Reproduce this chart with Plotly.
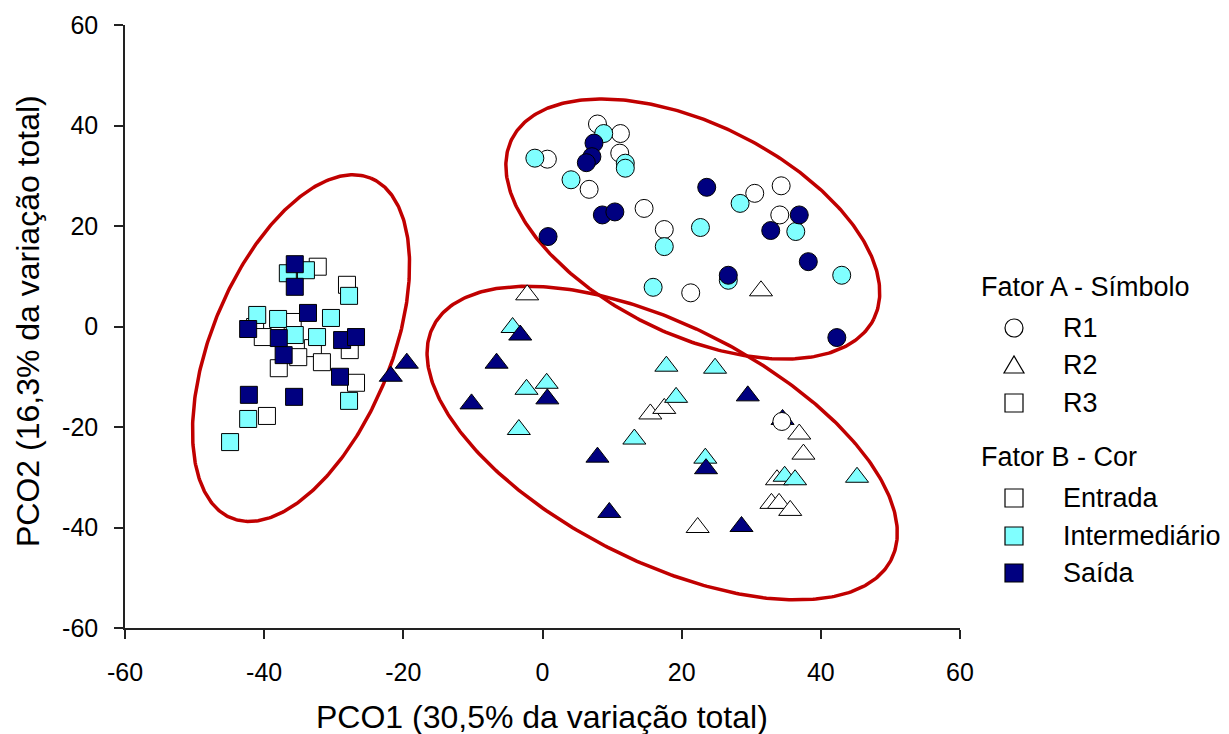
import numpy as np
import plotly.graph_objects as go

# ---------------- data ----------------
# R1 = circles, R2 = triangles, R3 = squares
# Entrada = white, Intermediário = cyan, Saída = navy
r1_entrada_x = [7.9, 11.2, 11.1, 0.7, 6.7, 30.5, 34.3, 14.6, 17.5, 34.1, 21.3, 34.4]
r1_entrada_y = [40.3, 38.4, 34.5, 33.3, 27.3, 26.5, 28.0, 23.5, 19.3, 22.2, 6.7, -18.9]
r1_inter_x = [8.8, 11.9, 11.9, -1.1, 4.1, 28.4, 17.5, 22.7, 36.4, 43.0, 26.7, 15.9]
r1_inter_y = [38.4, 32.5, 31.5, 33.5, 29.2, 24.5, 15.9, 19.7, 18.9, 10.2, 9.2, 7.8]
r1_saida_x = [7.4, 7.1, 6.3, 23.6, 8.6, 10.4, 36.9, 32.8, 0.8, 38.2, 26.7, 42.3]
r1_saida_y = [36.5, 33.8, 32.6, 27.7, 22.2, 22.8, 22.2, 19.1, 17.9, 12.9, 10.2, -2.2]

r2_entrada_x = [-2.2, 31.4, 15.5, 17.5, 22.3, 36.9, 37.5, 33.7, 32.9, 34.0, 35.6]
r2_entrada_y = [6.3, 7.1, -17.4, -16.3, -40.0, -21.4, -25.4, -30.5, -35.2, -35.2, -36.6]
r2_inter_x = [-4.3, -2.3, 0.6, -3.4, 13.2, 19.2, 17.8, 24.8, 23.4, 34.8, 36.3, 45.2]
r2_inter_y = [-0.2, -12.5, -11.3, -20.5, -22.4, -14.1, -7.9, -8.3, -26.2, -29.8, -30.5, -30.0]
r2_saida_x = [-3.2, -6.6, -10.2, 0.7, 7.9, 9.6, 29.5, 23.5, 28.6, -19.5, -21.8, 34.5]
r2_saida_y = [-1.7, -7.3, -15.4, -14.4, -26.0, -37.0, -13.8, -28.3, -39.8, -7.3, -9.9, -18.5]

r3_entrada_x = [-32.3, -28.1, -41.3, -40.2, -35.9, -33.0, -27.7, -35.1, -37.9, -31.7, -26.8, -39.6]
r3_entrada_y = [11.9, 8.3, -0.1, -2.1, 0.9, -4.3, -4.7, -6.1, -8.3, -7.1, -11.2, -17.8]
r3_inter_x = [-36.6, -34.0, -27.8, -41.0, -38.0, -30.4, -35.6, -32.4, -27.8, -42.3, -44.9]
r3_inter_y = [10.6, 11.2, 6.1, 2.3, 1.5, 1.7, -1.7, -2.1, -14.8, -18.4, -23.0]
r3_saida_x = [-35.6, -35.6, -33.7, -42.3, -37.9, -28.8, -26.8, -37.2, -29.1, -42.2, -35.7]
r3_saida_y = [12.4, 7.9, 2.7, -0.5, -2.3, -2.7, -2.1, -5.7, -10.0, -13.6, -14.0]

# grouping ellipses: centre (data units), semi-axes (px), rotation (deg)
ell_cx = [-34.7, 21.6, 17.2]
ell_cy = [-4.3, 19.4, -23.2]
ell_a = [183.7, 202.1, 257.0]
ell_b = [89.9, 105.0, 117.6]
ell_ang = [67.7, -26.4, -27.0]

x_ticks = [-60, -40, -20, 0, 20, 40, 60]
y_ticks = [-60, -40, -20, 0, 20, 40, 60]
x_tick_labels = ["-60", "-40", "-20", "0", "20", "40", "60"]
y_tick_labels = ["-60", "-40", "-20", "0", "20", "40", "60"]

x_title = "PCO1 (30,5% da variação total)"
y_title = "PCO2 (16,3% da variação total)"
factor_a_title = "Fator A - Símbolo"
factor_b_title = "Fator B - Cor"
symbol_names = ["R1", "R2", "R3"]
colour_names = ["Entrada", "Intermediário", "Saída"]

# ---------------- styling ----------------
W, H = 1229, 734
PL, PR, PT, PB = 125, 960, 25, 628          # plot-area edges in px
FONT = "Arial, 'Liberation Sans', sans-serif"
COLS = {"Entrada": "#FFFFFF", "Intermediário": "#80FFFF", "Saída": "#000080"}
SYMS = {"R1": "circle", "R2": "triangle-up", "R3": "square"}
SIZES = {"R1": 18, "R2": 20, "R3": 17}
RED = "#C00000"

sx = (PR - PL) / 120.0
sy = (PB - PT) / 120.0

fig = go.Figure()

# ellipses
t = np.linspace(0, 2 * np.pi, 400)
for cx, cy, a, b, ang in zip(ell_cx, ell_cy, ell_a, ell_b, ell_ang):
    th = np.deg2rad(ang)
    px = a * np.cos(th) * np.cos(t) - b * np.sin(th) * np.sin(t)
    py = a * np.sin(th) * np.cos(t) + b * np.cos(th) * np.sin(t)
    fig.add_trace(go.Scatter(x=cx + px / sx, y=cy + py / sy, mode="lines",
                             line=dict(color=RED, width=3.5),
                             hoverinfo="skip", showlegend=False))

series = [
    ("R2", "Entrada", r2_entrada_x, r2_entrada_y),
    ("R2", "Intermediário", r2_inter_x, r2_inter_y),
    ("R2", "Saída", r2_saida_x, r2_saida_y),
    ("R3", "Entrada", r3_entrada_x, r3_entrada_y),
    ("R3", "Intermediário", r3_inter_x, r3_inter_y),
    ("R3", "Saída", r3_saida_x, r3_saida_y),
    ("R1", "Entrada", r1_entrada_x, r1_entrada_y),
    ("R1", "Intermediário", r1_inter_x, r1_inter_y),
    ("R1", "Saída", r1_saida_x, r1_saida_y),
]
for sym, col, xs, ys in series:
    fig.add_trace(go.Scatter(
        x=xs, y=ys, mode="markers", name=f"{sym} – {col}",
        marker=dict(symbol=SYMS[sym], size=SIZES[sym], color=COLS[col],
                    line=dict(color="black", width=1)),
        showlegend=False))

# ---------------- custom legend ----------------
def px2paper_x(v):
    return v / W

def px2paper_y(v):
    return 1 - v / H

annotations = []
shapes = []
leg_sym_x = 1014
leg_txt_x = 1061
leg_title_x = 979
rows_a = [328, 365, 403]
rows_b = [498, 536, 573]
LEGFONT = dict(family=FONT, size=27, color="black")

annotations.append(dict(x=px2paper_x(leg_title_x), y=px2paper_y(287), xref="paper", yref="paper",
                        text=factor_a_title, showarrow=False, xanchor="left", yanchor="middle",
                        font=LEGFONT))
annotations.append(dict(x=px2paper_x(leg_title_x), y=px2paper_y(457), xref="paper", yref="paper",
                        text=factor_b_title, showarrow=False, xanchor="left", yanchor="middle",
                        font=LEGFONT))
for name, yy in zip(symbol_names, rows_a):
    annotations.append(dict(x=px2paper_x(leg_txt_x), y=px2paper_y(yy), xref="paper", yref="paper",
                            text=name, showarrow=False, xanchor="left", yanchor="middle",
                            font=LEGFONT))
for name, yy in zip(colour_names, rows_b):
    annotations.append(dict(x=px2paper_x(leg_txt_x), y=px2paper_y(yy), xref="paper", yref="paper",
                            text=name, showarrow=False, xanchor="left", yanchor="middle",
                            font=LEGFONT))

common = dict(xref="paper", yref="paper", xsizemode="pixel", ysizemode="pixel",
              line=dict(color="black", width=1.2))
shapes.append(dict(type="circle", xanchor=px2paper_x(leg_sym_x), yanchor=px2paper_y(rows_a[0]),
                   x0=-9, x1=9, y0=-9, y1=9, fillcolor="white", **common))
shapes.append(dict(type="path", xanchor=px2paper_x(leg_sym_x), yanchor=px2paper_y(rows_a[1]),
                   path="M -10,-8 L 10,-8 L 0,9 Z", fillcolor="white", **common))
shapes.append(dict(type="rect", xanchor=px2paper_x(leg_sym_x), yanchor=px2paper_y(rows_a[2]),
                   x0=-9, x1=9, y0=-9, y1=9, fillcolor="white", **common))
for name, yy in zip(colour_names, rows_b):
    shapes.append(dict(type="rect", xanchor=px2paper_x(leg_sym_x), yanchor=px2paper_y(yy),
                       x0=-9, x1=9, y0=-9, y1=9, fillcolor=COLS[name], **common))

# axis titles
annotations.append(dict(x=px2paper_x(542), y=px2paper_y(717), xref="paper", yref="paper",
                        text=x_title, showarrow=False, xanchor="center", yanchor="middle",
                        font=dict(family=FONT, size=32, color="black")))
annotations.append(dict(x=px2paper_x(28), y=px2paper_y(321), xref="paper", yref="paper",
                        text=y_title, showarrow=False, xanchor="center", yanchor="middle",
                        textangle=-90, font=dict(family=FONT, size=32, color="black")))

axis_common = dict(showgrid=False, zeroline=False, showline=True, linecolor="#222222", linewidth=1.5,
                   ticks="outside", ticklen=9, tickwidth=1.5, tickcolor="#222222",
                   tickfont=dict(family=FONT, size=25, color="black"), mirror=False,
                   fixedrange=True, automargin=False)

fig.update_layout(
    template="none",
    width=W, height=H, autosize=False,
    margin=dict(l=0, r=0, t=0, b=0, autoexpand=False),
    paper_bgcolor="white", plot_bgcolor="white",
    xaxis=dict(range=[-60, 60], tickvals=x_ticks, ticktext=x_tick_labels,
               domain=[PL / W, PR / W], ticklabelstandoff=12, **axis_common),
    yaxis=dict(range=[-60, 60], tickvals=y_ticks, ticktext=y_tick_labels,
               domain=[1 - PB / H, 1 - PT / H], ticklabelstandoff=11, **axis_common),
    annotations=annotations, shapes=shapes, showlegend=False,
)

fig.write_html("out.html", post_script="document.body.style.margin='0';",
               config={"displayModeBar": False})
